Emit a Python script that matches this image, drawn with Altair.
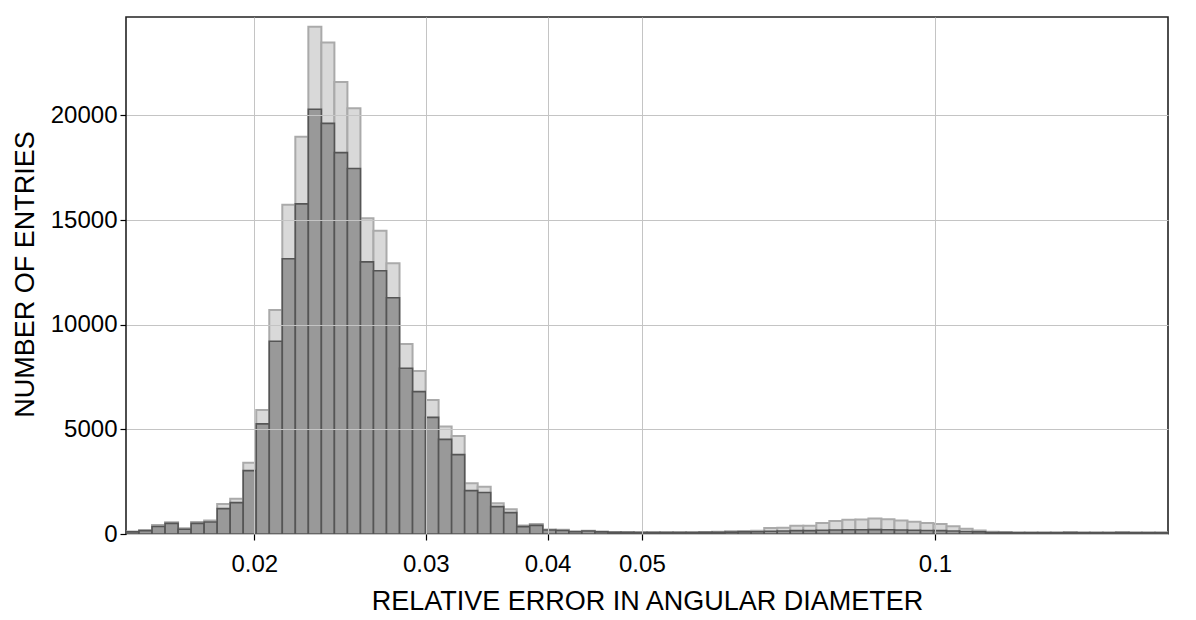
import altair as alt
import numpy as np
import pandas as pd

# x-axis range (log scale) and number of log-uniform bins
X_MIN = 0.014765
X_MAX = 0.17347
N_BINS = 80

# all entries (light histogram)
total_counts = [
    120, 180, 430, 560, 270, 570, 640, 1430, 1690, 3400,
    5920, 10700, 15730, 18980, 24240, 23480, 21600, 20340, 15080, 14490,
    12930, 9080, 7790, 6400, 5130, 4680, 2420, 2260, 1470, 1180,
    410, 480, 220, 200, 130, 160, 120, 100, 90, 90,
    90, 90, 90, 90, 100, 110, 130, 140, 150, 290,
    300, 400, 390, 520, 620, 680, 690, 740, 710, 650,
    590, 520, 480, 370, 250, 170, 110, 100, 80, 80,
    80, 80, 90, 80, 80, 80, 90, 80, 80, 80,
]

# selected entries (dark histogram)
subset_counts = [
    100, 160, 360, 510, 225, 510, 570, 1210, 1500, 3030,
    5260, 9210, 13150, 15770, 20290, 19620, 18220, 17460, 13000, 12580,
    11290, 7920, 6800, 5570, 4520, 3790, 2070, 1980, 1310, 1020,
    350, 410, 190, 170, 110, 140, 100, 80, 80, 70,
    70, 70, 70, 70, 80, 80, 90, 100, 110, 130,
    140, 160, 160, 180, 190, 200, 200, 210, 200, 190,
    180, 170, 160, 140, 120, 100, 70, 70, 60, 60,
    60, 60, 70, 60, 60, 60, 70, 60, 60, 60,
]

x_ticks = [0.02, 0.03, 0.04, 0.05, 0.1]
y_ticks = [0, 5000, 10000, 15000, 20000]
Y_MAX = 24700

edges = np.logspace(np.log10(X_MIN), np.log10(X_MAX), N_BINS + 1)
df = pd.DataFrame({
    "lo": edges[:-1],
    "hi": edges[1:],
    "total": total_counts,
    "subset": subset_counts,
    "zero": [0] * N_BINS,
})

FONT = "Liberation Sans, Arial, sans-serif"

x_enc = alt.X(
    "lo:Q",
    scale=alt.Scale(type="log", domain=[X_MIN, X_MAX], nice=False),
    axis=alt.Axis(
        values=x_ticks, format="~g", title="RELATIVE ERROR IN ANGULAR DIAMETER",
        grid=True, gridColor="#c4c4c4", gridWidth=1,
        tickColor="#000", tickSize=6, tickWidth=1.2, domain=False,
        labelFont=FONT, labelFontSize=24, labelColor="#000", labelPadding=12,
        labelFlush=False, labelOverlap=False,
        titleFont=FONT, titleFontSize=27, titleFontWeight="normal", titleColor="#000",
        titlePadding=12, zindex=1,
    ),
)

y_scale = alt.Scale(domain=[0, Y_MAX], nice=False, zero=True)
y_axis = alt.Axis(
    values=y_ticks, format="d", title="NUMBER OF ENTRIES",
    grid=True, gridColor="#c4c4c4", gridWidth=1,
    tickColor="#000", tickSize=6, tickWidth=1.2, domain=False,
    labelFont=FONT, labelFontSize=24, labelColor="#000", labelPadding=3,
    labelFlush=False, labelOverlap=False,
    titleFont=FONT, titleFontSize=27, titleFontWeight="normal", titleColor="#000",
    titleAngle=270, titleBaseline="alphabetic", titleX=-93, titleY=257,
    titleAlign="center", zindex=1,
)

light = alt.Chart(df).mark_rect(
    fill="#d9d9d9", stroke="#aaaaaa", strokeWidth=2, clip=True
).encode(
    x=x_enc, x2="hi:Q",
    y=alt.Y("total:Q", scale=y_scale, axis=y_axis), y2="zero:Q",
)

dark = alt.Chart(df).mark_rect(
    fill="#999999", stroke="#555555", strokeWidth=1.6, clip=True
).encode(
    x=alt.X("lo:Q"), x2="hi:Q",
    y=alt.Y("subset:Q"), y2="zero:Q",
)

chart = alt.layer(light, dark).properties(
    width=1042, height=517,
    autosize=alt.AutoSizeParams(type="none"),
    padding={"left": 118, "top": 9, "right": 20, "bottom": 86},
    background="white",
).configure_view(
    stroke="#222222", strokeWidth=1.6,
)

chart.save("out.html", embed_options={"renderer": "svg", "actions": False})
